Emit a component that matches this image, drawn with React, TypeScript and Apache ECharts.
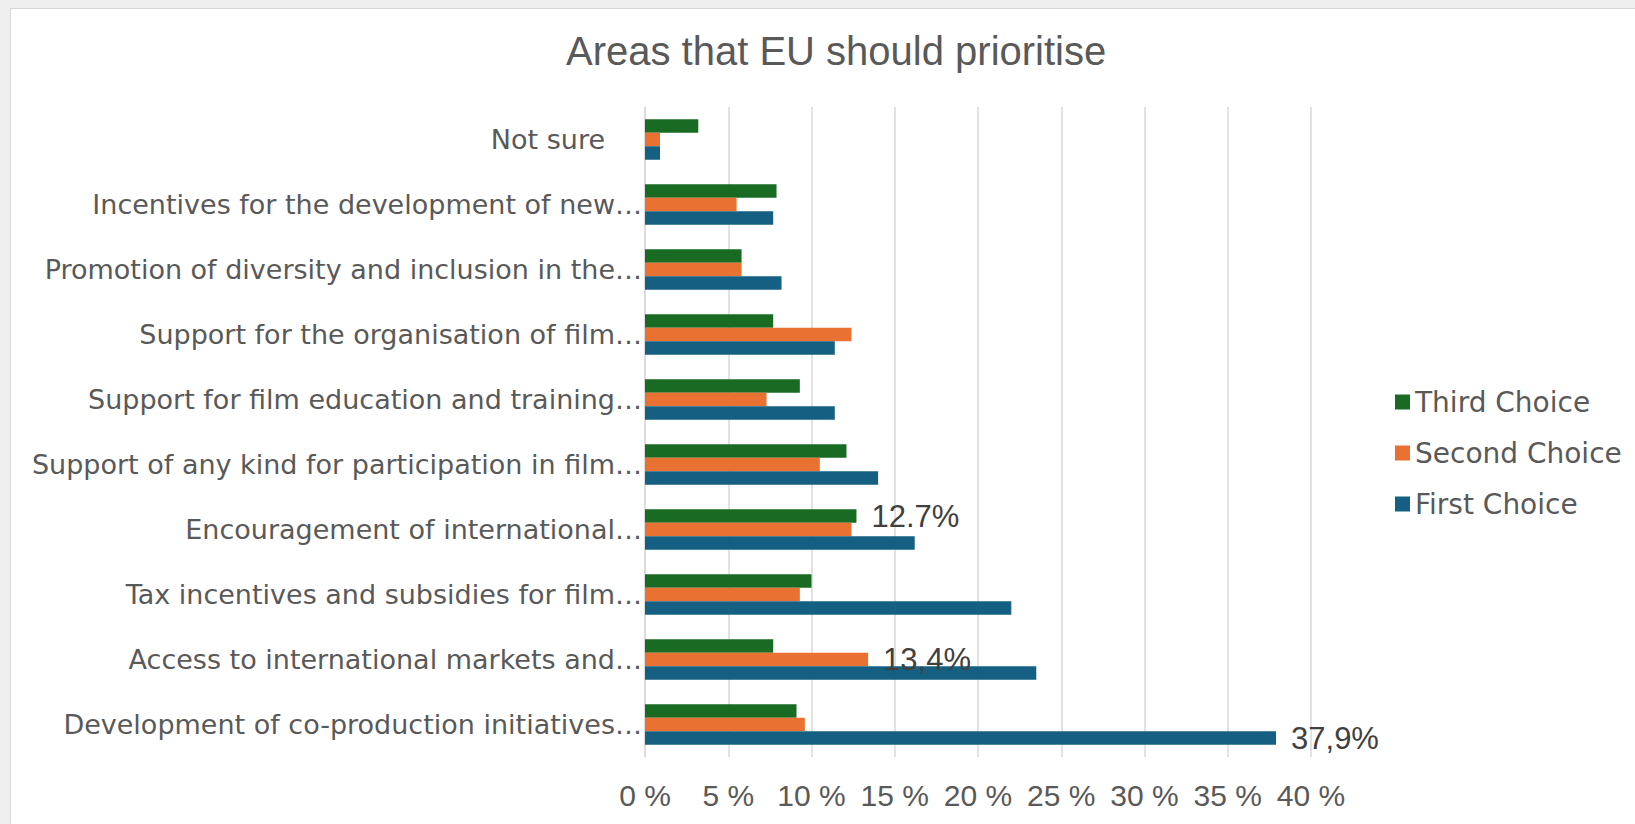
import React, { useEffect, useRef } from "react";
import * as echarts from "echarts";

// Categories, listed from bottom to top (ECharts category axis order)
const categories: string[] = [
  "Development of co-production initiatives…",
  "Access to international markets and…",
  "Tax incentives and subsidies for film…",
  "Encouragement of international…",
  "Support of any kind for participation in film…",
  "Support for film education and training…",
  "Support for the organisation of film…",
  "Promotion of diversity and inclusion in the…",
  "Incentives for the development of new…",
  "Not sure",
];

const firstChoice: number[] = [37.9, 23.5, 22.0, 16.2, 14.0, 11.4, 11.4, 8.2, 7.7, 0.9];
const secondChoice: number[] = [9.6, 13.4, 9.3, 12.4, 10.5, 7.3, 12.4, 5.8, 5.5, 0.9];
const thirdChoice: number[] = [9.1, 7.7, 10.0, 12.7, 12.1, 9.3, 7.7, 5.8, 7.9, 3.2];

const firstLabels: string[] = ["37,9%", "", "", "", "", "", "", "", "", ""];
const secondLabels: string[] = ["", "13,4%", "", "", "", "", "", "", "", ""];
const thirdLabels: string[] = ["", "", "", "12.7%", "", "", "", "", "", ""];

const xTicks = { min: 0, max: 40, interval: 5 };

const seriesNames = ["First Choice", "Second Choice", "Third Choice"];
const colors = ["#156082", "#E97132", "#196B24"];

export default function App() {
  const ref = useRef<HTMLDivElement>(null);

  useEffect(() => {
    if (!ref.current) return;
    const chart = echarts.init(ref.current, undefined, { renderer: "svg" });
    const labelStyle = {
      show: true,
      position: "right" as const,
      distance: 15,
      color: "#404040",
      fontFamily: "Liberation Sans, Arial, sans-serif",
      fontSize: 31,
    };
    const mk = (name: string, data: number[], labels: string[], color: string) => ({
      name,
      type: "bar",
      data,
      barWidth: 13.5,
      barGap: "0%",
      itemStyle: { color },
      label: { ...labelStyle, formatter: (p: any) => labels[p.dataIndex] },
    });
    chart.setOption({
      animation: false,
      title: {
        text: "Areas that EU should prioritise",
        left: 561,
        top: 26,
        textStyle: {
          fontFamily: "Liberation Sans, Arial, sans-serif",
          fontSize: 40,
          fontWeight: "normal",
          color: "#595959",
        },
      },
      legend: {
        orient: "vertical",
        left: 1390,
        top: 383,
        itemWidth: 15,
        itemHeight: 15,
        itemGap: 23,
        icon: "rect",
        data: ["Third Choice", "Second Choice", "First Choice"],
        textStyle: {
          fontFamily: "DejaVu Sans, sans-serif",
          fontSize: 28,
          color: "#595959",
        },
      },
      grid: { left: 645, right: 324, top: 107, bottom: 67 },
      xAxis: {
        type: "value",
        min: xTicks.min,
        max: xTicks.max,
        interval: xTicks.interval,
        axisLine: { show: false },
        axisTick: { show: false },
        splitLine: { show: true, lineStyle: { color: "#d9d9d9", width: 1.5 } },
        axisLabel: {
          formatter: "{value} %",
          fontFamily: "Liberation Sans, Arial, sans-serif",
          fontSize: 30,
          color: "#595959",
          margin: 23,
        },
      },
      yAxis: {
        type: "category",
        data: categories,
        axisLine: { show: true, lineStyle: { color: "#d9d9d9", width: 1.5 } },
        axisTick: { show: false },
        axisLabel: {
          margin: 3,
          fontFamily: "DejaVu Sans, sans-serif",
          fontSize: 27,
          color: "#595959",
          formatter: (v: string) => (v === "Not sure" ? "{ns|" + v + "}" : v),
          rich: {
            ns: {
              fontFamily: "DejaVu Sans, sans-serif",
              fontSize: 27,
              color: "#595959",
              padding: [0, 37, 0, 0],
            },
          },
        },
      },
      series: [
        mk(seriesNames[2], thirdChoice, thirdLabels, colors[2]),
        mk(seriesNames[1], secondChoice, secondLabels, colors[1]),
        mk(seriesNames[0], firstChoice, firstLabels, colors[0]),
      ],
    });
    return () => chart.dispose();
  }, []);

  return (
    <div style={{ position: "fixed", left: 0, top: 0, width: 1635, height: 824, background: "#efefef", overflow: "hidden" }}>
      <div
        style={{
          position: "absolute",
          left: 10,
          top: 8,
          width: 1640,
          height: 830,
          background: "#ffffff",
          borderLeft: "1px solid #d6d6d6",
          borderTop: "1px solid #d6d6d6",
        }}
      />
      <div ref={ref} style={{ position: "absolute", left: 0, top: 0, width: 1635, height: 824 }} />
    </div>
  );
}
